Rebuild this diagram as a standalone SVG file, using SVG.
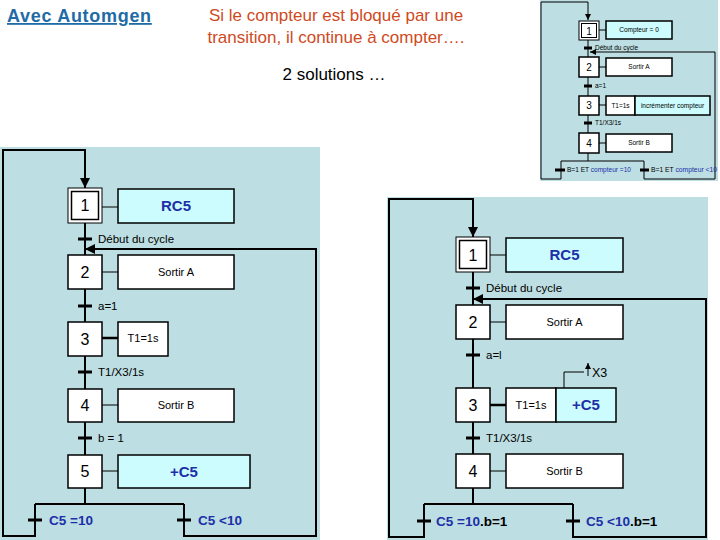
<svg xmlns="http://www.w3.org/2000/svg" width="720" height="540" viewBox="0 0 720 540">
<defs>
<style>
text{font-family:"Liberation Sans",Arial,sans-serif}
.panel{fill:#bddee2}
.step{fill:#fff;stroke:#000;stroke-width:1.5}
.init{fill:#fff;stroke:#000;stroke-width:1}
.act{fill:#fff;stroke:#000;stroke-width:1.5}
.cyan{fill:#ccfcfd}
.ln{fill:none;stroke:#000;stroke-width:2}
.thin{fill:none;stroke:#000;stroke-width:1}
.thick{fill:none;stroke:#000;stroke-width:2.5}
.bar{stroke:#000;stroke-width:3}
.num{font-size:16px;text-anchor:middle}
.at{font-size:11px;text-anchor:middle}
.tr{font-size:11.5px}
.blue{fill:#1c2fa8;font-weight:bold}
.sn{font-size:10px;text-anchor:middle}
.sa{font-size:6.5px;text-anchor:middle}
.st{font-size:6.5px}
.sb{fill:#1c2fa8}
</style>
<marker id="ah" viewBox="0 0 10 10" refX="10" refY="5" markerWidth="5" markerHeight="5" markerUnits="strokeWidth" orient="auto"><path d="M0,0L10,5L0,10z" fill="#000"/></marker>
<marker id="ahs" viewBox="0 0 10 10" refX="10" refY="5" markerWidth="6" markerHeight="6" markerUnits="strokeWidth" orient="auto"><path d="M0,0L10,5L0,10z" fill="#000"/></marker>
</defs>
<rect width="720" height="540" fill="#fff"/>

<!-- Titles -->
<g id="title">
<text x="7" y="22" font-size="18" font-weight="bold" fill="#1f6ba6" letter-spacing="0.7" text-decoration="underline">Avec Automgen</text>
<text x="336" y="21" font-size="17" fill="#cf4a1e" text-anchor="middle">Si le compteur est bloqué par une</text>
<text x="336" y="43" font-size="17" fill="#cf4a1e" text-anchor="middle">transition, il continue à compter….</text>
<text x="334" y="80" font-size="17" fill="#000" text-anchor="middle">2 solutions …</text>
</g>

<!-- ===== Top-right small diagram ===== -->
<rect class="panel" x="540" y="0" width="178" height="181"/>
<g id="s-connectors">
<path class="thin" d="M561,161V179H541V2H588V20" marker-end="url(#ahs)"/>
<path class="thin" d="M644,161V179H715V52H590" marker-end="url(#ahs)"/>
<path class="thin" d="M588,40V57M588,77V96M588,115V133M588,153V161M561,161H644"/>
<path class="thin" d="M599,30H606M599,67H606M599,105H606M599,143H606"/>
</g>
<g id="s-step1"><rect class="init" x="579" y="21" width="20" height="19"/><rect class="thin" x="581.5" y="23.5" width="15" height="14"/><text class="sn" x="589" y="35">1</text></g>
<g id="s-act1"><rect class="act cyan" stroke="#000" stroke-width="1" x="606" y="21" width="66" height="18"/><text class="sa" x="639" y="32">Compteur = 0</text></g>
<g id="s-t1"><line class="bar" stroke-width="1.5" x1="584" y1="48" x2="592" y2="48"/><text class="st" x="595" y="50">Début du cycle</text></g>
<g id="s-step2"><rect class="step" stroke-width="1" x="579" y="57" width="20" height="20"/><text class="sn" x="589" y="71">2</text></g>
<g id="s-act2"><rect class="act" stroke-width="1" x="606" y="58" width="66" height="18"/><text class="sa" x="639" y="69">Sortir A</text></g>
<g id="s-t2"><line class="bar" stroke-width="1.5" x1="584" y1="86" x2="592" y2="86"/><text class="st" x="595" y="88">a=1</text></g>
<g id="s-step3"><rect class="step" stroke-width="1" x="579" y="96" width="20" height="19"/><text class="sn" x="589" y="109">3</text></g>
<g id="s-act3"><rect class="act" stroke-width="1" x="606" y="96" width="29" height="19"/><text class="sa" x="620.5" y="108">T1=1s</text><rect class="act cyan" stroke-width="1" x="635" y="96" width="75" height="19"/><text class="sa" x="672.5" y="108">incrémenter compteur</text></g>
<g id="s-t3"><line class="bar" stroke-width="1.5" x1="584" y1="123" x2="592" y2="123"/><text class="st" x="595" y="125">T1/X3/1s</text></g>
<g id="s-step4"><rect class="step" stroke-width="1" x="579" y="133" width="20" height="20"/><text class="sn" x="589" y="147">4</text></g>
<g id="s-act4"><rect class="act" stroke-width="1" x="606" y="134" width="66" height="18"/><text class="sa" x="639" y="145">Sortir B</text></g>
<g id="s-t4"><line class="bar" stroke-width="1.5" x1="555" y1="170" x2="565" y2="170"/><text class="st" x="567" y="172" textLength="64" lengthAdjust="spacingAndGlyphs">B=1 ET <tspan class="sb">compteur =10</tspan></text></g>
<g id="s-t5"><line class="bar" stroke-width="1.5" x1="640" y1="170" x2="649" y2="170"/><text class="st" x="651" y="172" textLength="66" lengthAdjust="spacingAndGlyphs">B=1 ET <tspan class="sb">compteur &lt;10</tspan></text></g>

<!-- ===== Left diagram ===== -->
<rect class="panel" x="0" y="147" width="320" height="393"/>
<g id="l-connectors">
<path class="ln" d="M35,504V536H3V150H85V188" marker-end="url(#ah)"/>
<path class="ln" d="M184,504V536H316V249H85" marker-end="url(#ah)"/>
<path class="ln" d="M85,223V255M85,289V322M85,356V389M85,422V455M85,488V504M35,504H184"/>
<path class="thin" d="M102,207H118M102,272H118M102,405H118M102,471H118"/>
<path class="thick" d="M102,338H118"/>
</g>
<g id="l-step1"><rect class="init" x="68" y="188" width="34" height="35"/><rect class="step" x="71.5" y="191.5" width="27" height="28"/><text class="num" x="85" y="211">1</text></g>
<g id="l-act1"><rect class="act cyan" x="118" y="189" width="116" height="34"/><text class="blue" x="176" y="211" font-size="15" text-anchor="middle">RC5</text></g>
<g id="l-t1"><line class="bar" x1="78" y1="239" x2="92" y2="239"/><text class="tr" x="98" y="243">Début du cycle</text></g>
<g id="l-step2"><rect class="step" x="68" y="255" width="34" height="34"/><text class="num" x="85" y="278">2</text></g>
<g id="l-act2"><rect class="act" x="118" y="255" width="116" height="34"/><text class="at" x="176" y="276">Sortir A</text></g>
<g id="l-t2"><line class="bar" x1="78" y1="306" x2="92" y2="306"/><text class="tr" x="98" y="310">a=1</text></g>
<g id="l-step3"><rect class="step" x="68" y="322" width="34" height="34"/><text class="num" x="85" y="345">3</text></g>
<g id="l-act3"><rect class="act" x="118" y="322" width="50" height="34"/><text class="at" x="143" y="342">T1=1s</text></g>
<g id="l-t3"><line class="bar" x1="78" y1="372" x2="92" y2="372"/><text class="tr" x="98" y="376">T1/X3/1s</text></g>
<g id="l-step4"><rect class="step" x="68" y="389" width="34" height="33"/><text class="num" x="85" y="411">4</text></g>
<g id="l-act4"><rect class="act" x="118" y="389" width="116" height="33"/><text class="at" x="176" y="409">Sortir B</text></g>
<g id="l-t4"><line class="bar" x1="78" y1="438" x2="92" y2="438"/><text class="tr" x="98" y="442">b = 1</text></g>
<g id="l-step5"><rect class="step" x="68" y="455" width="34" height="33"/><text class="num" x="85" y="477">5</text></g>
<g id="l-act5"><rect class="act cyan" x="118" y="455" width="132" height="33"/><text class="blue" x="184" y="477" font-size="15" text-anchor="middle">+C5</text></g>
<g id="l-t5"><line class="bar" x1="28" y1="520" x2="42" y2="520"/><text class="blue" x="49" y="525" font-size="13.5">C5 =10</text></g>
<g id="l-t6"><line class="bar" x1="177" y1="520" x2="191" y2="520"/><text class="blue" x="198" y="525" font-size="13.5">C5 &lt;10</text></g>

<!-- ===== Right diagram ===== -->
<rect class="panel" x="387" y="197" width="321" height="343"/>
<g id="r-connectors">
<path class="ln" d="M424,504V537H389V199H473V237" marker-end="url(#ah)"/>
<path class="ln" d="M573,504V537H706V299H473" marker-end="url(#ah)"/>
<path class="ln" d="M473,272V305M473,339V388M473,422V454M473,488V504M424,504H573"/>
<path class="thin" d="M490,255H506M490,322H506M490,471H506"/>
<path class="thick" d="M490,405H506"/>
<path class="thin" d="M564,388V372H584"/>
<path class="thin" d="M588,376V363" marker-end="url(#ahs)"/>
</g>
<g id="r-step1"><rect class="init" x="456" y="237" width="34" height="35"/><rect class="step" x="459.5" y="240.5" width="27" height="28"/><text class="num" x="473" y="261">1</text></g>
<g id="r-act1"><rect class="act cyan" x="506" y="238" width="117" height="34"/><text class="blue" x="564.5" y="260" font-size="15" text-anchor="middle">RC5</text></g>
<g id="r-t1"><line class="bar" x1="466" y1="288" x2="480" y2="288"/><text class="tr" x="486" y="292">Début du cycle</text></g>
<g id="r-step2"><rect class="step" x="456" y="305" width="34" height="34"/><text class="num" x="473" y="328">2</text></g>
<g id="r-act2"><rect class="act" x="506" y="305" width="117" height="34"/><text class="at" x="564.5" y="326">Sortir A</text></g>
<g id="r-t2"><line class="bar" x1="466" y1="355" x2="480" y2="355"/><text class="tr" x="486" y="359">a=l</text></g>
<g id="r-step3"><rect class="step" x="456" y="388" width="34" height="34"/><text class="num" x="473" y="411">3</text></g>
<g id="r-act3"><rect class="act" x="506" y="388" width="50" height="34"/><text class="at" x="531" y="409">T1=1s</text><rect class="act cyan" x="556" y="388" width="60" height="34"/><text class="blue" x="586" y="410" font-size="15" text-anchor="middle">+C5</text><text x="592" y="377" font-size="12.5">X3</text></g>
<g id="r-t3"><line class="bar" x1="466" y1="438" x2="480" y2="438"/><text class="tr" x="486" y="442">T1/X3/1s</text></g>
<g id="r-step4"><rect class="step" x="456" y="454" width="34" height="34"/><text class="num" x="473" y="477">4</text></g>
<g id="r-act4"><rect class="act" x="506" y="454" width="117" height="34"/><text class="at" x="564.5" y="475">Sortir B</text></g>
<g id="r-t4"><line class="bar" x1="417" y1="521" x2="431" y2="521"/><text x="436" y="526" font-size="13.5" font-weight="bold"><tspan fill="#1c2fa8">C5 =10</tspan>.b=1</text></g>
<g id="r-t5"><line class="bar" x1="566" y1="521" x2="580" y2="521"/><text x="586" y="526" font-size="13.5" font-weight="bold"><tspan fill="#1c2fa8">C5 &lt;10</tspan>.b=1</text></g>
</svg>
